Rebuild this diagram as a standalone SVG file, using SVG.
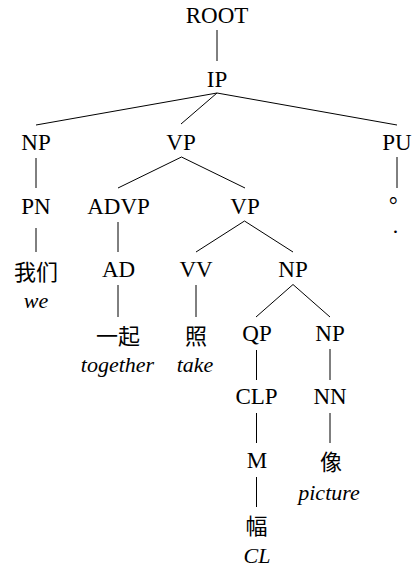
<svg xmlns="http://www.w3.org/2000/svg" width="413" height="566" viewBox="0 0 413 566">
<style>
.l{font-family:"Liberation Serif","Times New Roman",serif;font-size:23px;fill:#000;text-anchor:middle}
.g{font-family:"Liberation Serif","Times New Roman",serif;font-size:22px;font-style:italic;fill:#000;text-anchor:middle}
.c{font-family:"Noto Sans CJK SC",sans-serif;font-size:22px;fill:#000;text-anchor:middle}
.e line{stroke:#000;stroke-width:1}
</style>
<rect width="413" height="566" fill="#fff"/>
<g class="e" id="edges">
<line x1="217" y1="30" x2="217" y2="61"/>
<line x1="217" y1="93" x2="36" y2="125"/>
<line x1="217" y1="93" x2="181" y2="124"/>
<line x1="217" y1="93" x2="397" y2="125"/>
<line x1="36" y1="158" x2="36" y2="188"/>
<line x1="181.5" y1="157" x2="118" y2="188"/>
<line x1="181.5" y1="157" x2="245" y2="188"/>
<line x1="397" y1="157" x2="397" y2="188"/>
<line x1="36" y1="228" x2="36" y2="252"/>
<line x1="118" y1="222" x2="118" y2="252"/>
<line x1="244.5" y1="221" x2="196" y2="252"/>
<line x1="244.5" y1="221" x2="293" y2="252"/>
<line x1="118" y1="285" x2="118" y2="317"/>
<line x1="196" y1="285" x2="196" y2="317"/>
<line x1="293" y1="284.5" x2="256" y2="317"/>
<line x1="293" y1="284.5" x2="330" y2="317"/>
<line x1="256.5" y1="350" x2="256.5" y2="380"/>
<line x1="330" y1="349" x2="330" y2="380"/>
<line x1="256.5" y1="413" x2="256.5" y2="443"/>
<line x1="330" y1="413" x2="330" y2="443"/>
<line x1="256.5" y1="477" x2="256.5" y2="507"/>
</g>
<g id="root"><text class="l" x="217" y="23">ROOT</text></g>
<g id="ip"><text class="l" x="217" y="86.5">IP</text></g>
<g id="np1"><text class="l" x="36" y="150">NP</text></g>
<g id="vp1"><text class="l" x="181" y="150">VP</text></g>
<g id="pu"><text class="l" x="397" y="150">PU</text></g>
<g id="pn"><text class="l" x="36" y="213.5">PN</text></g>
<g id="advp"><text class="l" x="118.5" y="213.5">ADVP</text></g>
<g id="vp2"><text class="l" x="245" y="213.5">VP</text></g>
<g id="punct"><text class="c" x="400" y="202">。</text><text class="g" x="396" y="232.5">.</text></g>
<g id="wo"><text class="c" x="36" y="280">我们</text><text class="g" x="36" y="308">we</text></g>
<g id="ad"><text class="l" x="118.5" y="277">AD</text></g>
<g id="vv"><text class="l" x="196" y="277">VV</text></g>
<g id="np2"><text class="l" x="293" y="277">NP</text></g>
<g id="yiqi"><text class="c" x="118" y="344">一起</text><text class="g" x="117.5" y="371.5">together</text></g>
<g id="zhao"><text class="c" x="196" y="344">照</text><text class="g" x="195" y="371.5">take</text></g>
<g id="qp"><text class="l" x="257" y="340.5">QP</text></g>
<g id="np3"><text class="l" x="330" y="340.5">NP</text></g>
<g id="clp"><text class="l" x="256.5" y="404">CLP</text></g>
<g id="nn"><text class="l" x="330" y="404">NN</text></g>
<g id="m"><text class="l" x="257" y="468">M</text></g>
<g id="xiang"><text class="c" x="331" y="470">像</text><text class="g" x="329" y="500">picture</text></g>
<g id="fu"><text class="c" x="256.5" y="534">幅</text><text class="g" x="257" y="562.5">CL</text></g>
</svg>
